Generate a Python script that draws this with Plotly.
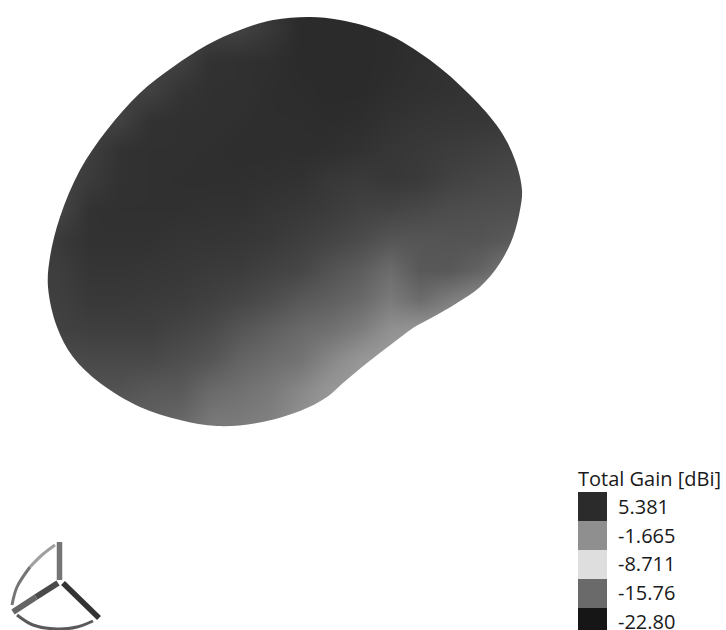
import plotly.graph_objects as go

# Radiation pattern silhouette (plot units = page pixels)
outline_x = [310,340,385,430,470,500,515,522,520,513,500,480,457,433,413,393,367,343,327,300,
             257,217,180,140,100,73,57,48,50,60,80,107,140,173,207,240,273]
outline_y = [17,20,33,60,95,130,160,190,210,237,263,287,303,317,328,343,363,383,397,411,
             423,426,420,407,383,357,327,287,257,217,170,130,93,67,45,30,20]

# Total gain sampled over the view [dBi]
gain_x = [30,60,90,120,150,180,210,240,270,300,330,360,390,420,450,480,510,540]
gain_y = [0,30,60,90,120,150,180,210,240,270,300,330,360,390,420,450]
gain = [
 [3.8,3.8,3.8,3.8,3.8,3.8,3.8,3.8,4.5,5.4,5.4,5.4,5.3,5.1,5.0,4.9,4.7,4.7],
 [3.8,3.8,3.8,3.8,3.8,3.8,3.8,3.8,4.5,5.4,5.4,5.4,5.3,5.1,5.0,4.9,4.7,4.7],
 [3.8,3.8,3.8,3.8,3.8,3.8,4.9,5.0,5.1,5.4,5.4,5.4,5.3,5.1,4.9,4.7,4.5,4.5],
 [3.8,3.8,3.8,3.8,3.8,4.7,5.0,5.0,5.2,5.3,5.4,5.4,5.2,5.0,4.9,4.7,4.4,4.2],
 [3.8,3.8,3.8,3.8,4.9,5.0,5.0,5.1,5.2,5.2,5.3,5.2,4.9,4.7,4.6,4.6,4.4,4.2],
 [3.8,3.8,4.0,4.9,5.0,5.0,5.1,5.2,5.2,5.2,5.1,4.9,4.6,4.4,4.2,4.0,3.8,3.6],
 [3.6,3.6,4.3,4.9,5.0,5.1,5.1,5.1,5.0,4.9,4.5,4.3,4.5,4.3,3.8,3.5,3.3,3.1],
 [3.6,3.6,4.9,5.0,5.0,5.0,4.9,4.9,4.7,4.5,4.2,3.8,3.6,3.3,3.0,2.9,2.8,2.8],
 [3.6,4.4,4.9,4.9,4.9,4.7,4.7,4.6,4.4,4.0,3.6,3.1,2.4,2.4,2.5,2.5,2.1,1.7],
 [4.0,4.1,4.7,4.7,4.6,4.5,4.3,4.2,3.8,3.5,2.6,1.9,0.8,2.2,2.2,1.4,-0.1,-0.1],
 [3.9,4.0,4.4,4.4,4.3,4.2,3.9,3.5,3.0,2.2,1.7,1.0,-0.2,0.8,-0.4,-1.5,-1.5,-1.5],
 [3.3,3.8,4.0,4.0,4.0,3.6,3.2,2.4,1.7,1.0,0.5,-0.4,-1.8,-2.3,-2.3,-2.3,-2.3,-2.3],
 [3.0,3.0,3.3,3.3,3.3,2.9,2.4,1.4,0.8,0.3,-1.1,-2.3,-3.0,-3.0,-3.0,-3.0,-3.0,-3.0],
 [2.4,2.4,2.6,2.6,2.2,2.1,1.0,0.5,-0.1,-1.1,-2.3,-3.0,-3.0,-3.0,-3.0,-3.0,-3.0,-3.0],
 [1.7,1.7,1.7,1.7,1.6,1.2,0.0,-0.2,-0.6,-1.8,-3.0,-3.0,-3.0,-3.0,-3.0,-3.0,-3.0,-3.0],
 [1.7,1.7,1.7,1.7,1.6,1.2,0.0,-0.2,-0.6,-1.8,-3.0,-3.0,-3.0,-3.0,-3.0,-3.0,-3.0,-3.0],
]

# Legend
legend_title = "Total Gain [dBi]"
legend_values = [5.381, -1.665, -8.711, -15.76, -22.80]
legend_labels = ["5.381", "-1.665", "-8.711", "-15.76", "-22.80"]
legend_colors = ["#2b2b2b", "#8f8f8f", "#dedede", "#6a6a6a", "#161616"]

# Orientation triad
rod_z_x, rod_z_y = [59.5, 59.5], [542, 580]
rod_a1_x, rod_a1_y = [58, 36], [583, 597]
rod_a2_x, rod_a2_y = [36, 13], [597, 612]
rod_b_x, rod_b_y = [63, 99], [583, 618]
arc_a1_x, arc_a1_y = [55, 42, 30], [545, 555, 567]
arc_a2_x, arc_a2_y = [30, 17, 12], [567, 587, 605]
arc_b_x, arc_b_y = [17, 33, 57, 77, 93], [615, 625, 629, 627, 621]

lo, hi = min(legend_values), max(legend_values)
colorscale = [[(v - lo) / (hi - lo), c] for v, c in sorted(zip(legend_values, legend_colors))]

fig = go.Figure()
fig.add_trace(go.Heatmap(x=gain_x, y=gain_y, z=gain, coloraxis="coloraxis", zsmooth="best",
                         hoverinfo="skip"))
# White surround, leaving only the silhouette of the pattern visible
fig.add_trace(go.Scatter(
    x=[-60, 700, 700, -60, -60, None] + outline_x[::-1] + outline_x[-1:],
    y=[-60, -60, 480, 480, -60, None] + outline_y[::-1] + outline_y[-1:],
    mode="lines", fill="toself", fillcolor="white",
    line=dict(color="white", width=0, shape="spline", smoothing=1.0), hoverinfo="skip"))
for xs, ys, col, w in [
    (arc_a1_x, arc_a1_y, "#a0a0a0", 3), (arc_a2_x, arc_a2_y, "#757575", 3),
    (arc_b_x, arc_b_y, "#5a5a5a", 3),
    (rod_z_x, rod_z_y, "#757575", 5.5), (rod_a1_x, rod_a1_y, "#4a4a4a", 6),
    (rod_a2_x, rod_a2_y, "#656565", 6), (rod_b_x, rod_b_y, "#333333", 5.5)]:
    fig.add_trace(go.Scatter(x=xs, y=ys, mode="lines", hoverinfo="skip",
                             line=dict(color=col, width=w, shape="spline")))

fig.add_trace(go.Heatmap(x=[0], y=list(range(5)), z=[[v] for v in legend_values],
                         coloraxis="coloraxis", xaxis="x2", yaxis="y2", hoverinfo="skip"))

fig.update_layout(
    width=726, height=630, margin=dict(l=0, r=0, t=0, b=0, pad=0, autoexpand=False),
    paper_bgcolor="white", plot_bgcolor="white", showlegend=False,
    coloraxis=dict(colorscale=colorscale, cmin=lo, cmax=hi, showscale=False),
    xaxis=dict(range=[0, 726], visible=False, domain=[0, 1], fixedrange=True),
    yaxis=dict(range=[630, 0], visible=False, domain=[0, 1], fixedrange=True),
    xaxis2=dict(range=[-0.5, 0.5], visible=False, domain=[578/726, 607/726], anchor="y2"),
    yaxis2=dict(range=[4.259, -0.5], domain=[0, 138/630], anchor="x2", side="right",
                tickmode="array", tickvals=list(range(5)), ticktext=legend_labels,
                ticks="outside", ticklen=6, tickcolor="rgba(0,0,0,0)", showgrid=False,
                showline=False, zeroline=False, ticklabeloverflow="allow",
                tickfont=dict(family="Open Sans", size=20, color="#1a1a1a")),
    annotations=[dict(text=legend_title, x=576/726, y=1-478/630, xref="paper", yref="paper",
                      xanchor="left", yanchor="middle", showarrow=False,
                      font=dict(family="Open Sans", size=20, color="#1a1a1a"))],
)
fig.write_html("out.html", config={"displayModeBar": False},
               post_script="document.body.style.margin='0';document.body.style.overflow='hidden';")
